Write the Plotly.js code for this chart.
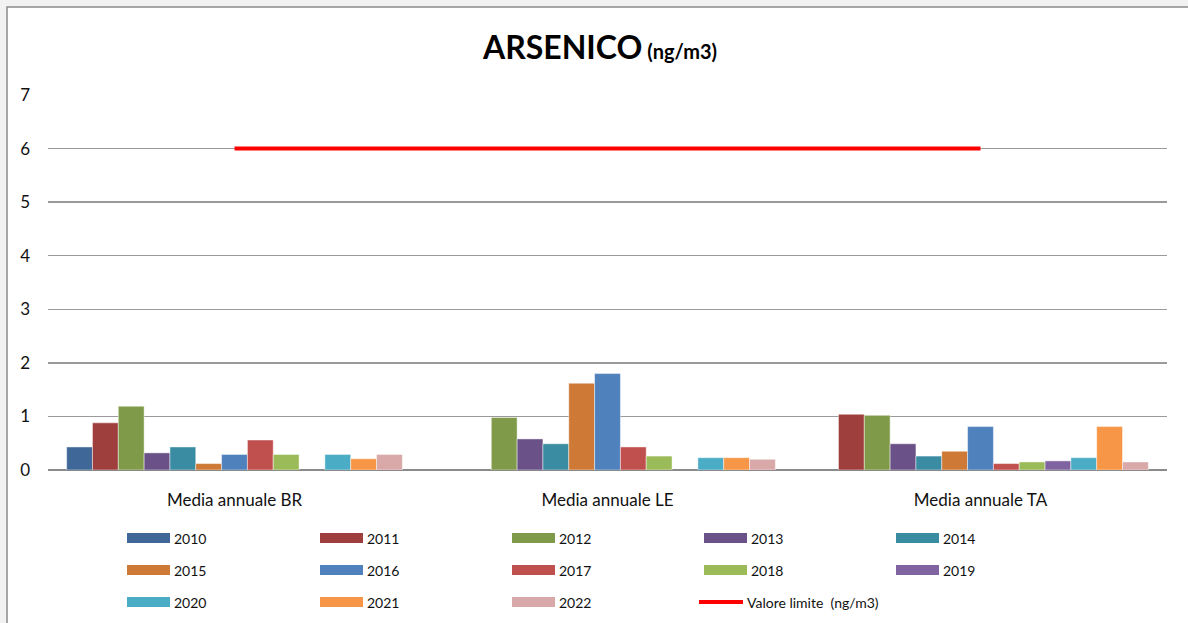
<!DOCTYPE html>
<html>
<head>
<meta charset="utf-8">
<script src="https://cdn.plot.ly/plotly-3.0.1.min.js"></script>
<style>
html,body{margin:0;padding:0;background:#f2f2f2;}
#chart{width:1188px;height:623px;}
</style>
</head>
<body>
<div id="chart"></div>
<script>
// ---- data ----
var categories = ['Media annuale BR', 'Media annuale LE', 'Media annuale TA'];
var years = ['2010','2011','2012','2013','2014','2015','2016','2017','2018','2019','2020','2021','2022'];
var v2010 = [0.43, null, null];
var v2011 = [0.88, null, 1.04];
var v2012 = [1.19, 0.98, 1.02];
var v2013 = [0.32, 0.58, 0.49];
var v2014 = [0.43, 0.49, 0.26];
var v2015 = [0.12, 1.62, 0.35];
var v2016 = [0.29, 1.80, 0.81];
var v2017 = [0.56, 0.43, 0.12];
var v2018 = [0.29, 0.26, 0.15];
var v2019 = [null, null, 0.17];
var v2020 = [0.29, 0.23, 0.23];
var v2021 = [0.21, 0.23, 0.81];
var v2022 = [0.29, 0.20, 0.15];
var limitValues = [6, 6, 6];
var limitLabel = 'Valore limite  (ng/m3)';
var yTicks = [0,1,2,3,4,5,6,7];

var seriesValues = [v2010,v2011,v2012,v2013,v2014,v2015,v2016,v2017,v2018,v2019,v2020,v2021,v2022];
var colors = ['#3F6899','#9E3F3D','#7F9A48','#6A5188','#3A8CA3','#CE7A36','#4F81BD',
              '#C0504D','#9BBB59','#8064A2','#4BACC6','#F79646','#D9A8A8'];

// ---- layout geometry (pixels) ----
var W = 1188, H = 623;
var L = 48, R = 1167, T = 95, B = 470;
function px(x){ return (x - L) / (R - L); }
function py(y){ return (B - y) / (B - T); }

var FONT = 'Lato, "Open Sans", sans-serif';

var traces = [];
for (var i = 0; i < years.length; i++) {
  traces.push({
    type: 'bar',
    name: years[i],
    x: categories,
    y: seriesValues[i],
    marker: {color: colors[i], line: {color: 'rgba(255,255,255,0.45)', width: 1}},
    showlegend: false,
    hoverinfo: 'x+y+name'
  });
}
traces.push({
  type: 'scatter',
  mode: 'lines',
  name: limitLabel,
  x: categories,
  y: limitValues,
  line: {color: '#FF0000', width: 4},
  showlegend: false
});

// ---- custom legend ----
var shapes = [];
var annotations = [];
// chart frame
shapes.push({
  type: 'rect', xref: 'paper', yref: 'paper', layer: 'below',
  x0: px(7), x1: px(1200), y0: py(7), y1: py(640),
  fillcolor: '#ffffff', line: {color: '#8a8a8a', width: 1.5}
});
var colX = [127, 320, 512, 704, 896];
var rowY = [538, 570, 602];
var legendItems = years.concat([limitLabel]);
for (var k = 0; k < legendItems.length; k++) {
  var c = k % 5, r = Math.floor(k / 5);
  var x0 = colX[c], yc = rowY[r];
  if (k < years.length) {
    shapes.push({
      type: 'rect', xref: 'paper', yref: 'paper',
      x0: px(x0), x1: px(x0 + 43), y0: py(yc - 5), y1: py(yc + 5),
      fillcolor: colors[k], line: {width: 0}
    });
    annotations.push({
      xref: 'paper', yref: 'paper', x: px(x0 + 45), y: py(yc),
      xanchor: 'left', yanchor: 'middle', showarrow: false,
      text: legendItems[k], font: {family: FONT, size: 14, color: '#111'}
    });
  } else {
    shapes.push({
      type: 'line', xref: 'paper', yref: 'paper',
      x0: px(x0 - 5), x1: px(x0 + 39), y0: py(yc), y1: py(yc),
      line: {color: '#FF0000', width: 4}
    });
    annotations.push({
      xref: 'paper', yref: 'paper', x: px(x0 + 41), y: py(yc),
      xanchor: 'left', yanchor: 'middle', showarrow: false,
      text: legendItems[k], font: {family: FONT, size: 14, color: '#111'}
    });
  }
}

var layout = {
  width: W, height: H,
  margin: {l: L, r: W - R, t: T, b: H - B, pad: 0},
  paper_bgcolor: '#f2f2f2',
  plot_bgcolor: 'rgba(0,0,0,0)',
  font: {family: FONT, color: '#111'},
  title: {
    text: '<b>ARSENICO</b><span style="font-size:20px"><b> (ng/m3)</b></span>',
    font: {family: FONT, size: 32, color: '#000'},
    x: 600 / W, xanchor: 'center', xref: 'container',
    y: 1 - 48 / H, yanchor: 'middle', yref: 'container'
  },
  barmode: 'group',
  bargap: 0.1,
  bargroupgap: 0,
  xaxis: {
    type: 'category',
    showgrid: false,
    showline: false,
    ticks: '',
    ticklabelstandoff: 18,
    tickfont: {family: FONT, size: 17, color: '#111'},
    fixedrange: true
  },
  yaxis: {
    range: [0, 7],
    tickvals: yTicks,
    ticktext: yTicks.map(String),
    showgrid: true,
    gridcolor: '#9a9a9a',
    gridwidth: 1.3,
    zeroline: true,
    zerolinecolor: '#8a8a8a',
    zerolinewidth: 2.5,
    showline: false,
    ticks: '',
    ticklabelstandoff: 17,
    tickfont: {family: FONT, size: 17, color: '#111'},
    fixedrange: true
  },
  shapes: shapes,
  annotations: annotations,
  showlegend: false
};

Plotly.newPlot('chart', traces, layout, {displayModeBar: false, staticPlot: true});
</script>
</body>
</html>
